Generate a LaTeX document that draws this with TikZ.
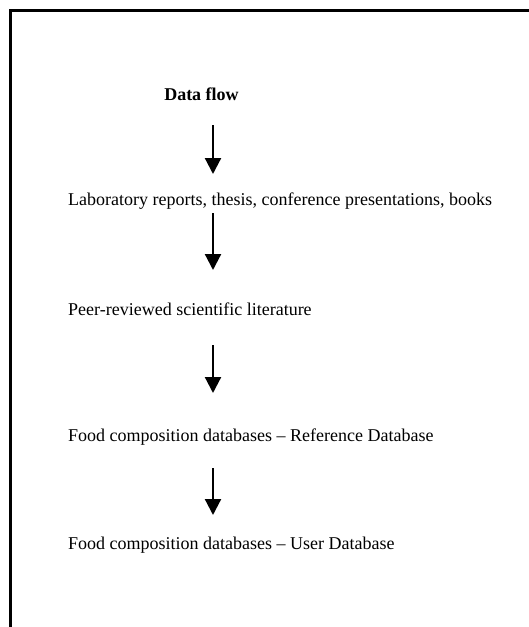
\documentclass[tikz,border=0pt]{standalone}
\usepackage{fontspec}
\setmainfont{Liberation Serif}
\usetikzlibrary{arrows.meta}

\begin{document}
\begin{tikzpicture}[x=1pt,y=-1pt,
  txt/.style={anchor=west,inner sep=0pt,font=\fontsize{18}{21.6}\selectfont},
  flowarrow/.style={line width=2.2pt,-{Triangle[width=16pt,length=16pt]}}]
\useasboundingbox (0,0) rectangle (529,627);
\draw[line width=2.5pt] (10.5,627) -- (10.5,10.5) -- (529,10.5);
\node[inner sep=0pt,font=\fontsize{18}{21.6}\selectfont\bfseries] (title) at (201.5,94) {Data flow};
\node[txt] (lab) at (68,201) {Laboratory reports, thesis, conference presentations, books};
\node[txt] (peer) at (68,309) {Peer-reviewed scientific literature};
\node[txt] (ref) at (68,437) {Food composition databases – Reference Database};
\node[txt] (user) at (68,545) {Food composition databases – User Database};
\coordinate (a1) at (213,125); \coordinate (b1) at (213,174);
\coordinate (a2) at (213,213); \coordinate (b2) at (213,270);
\coordinate (a3) at (213,345); \coordinate (b3) at (213,393);
\coordinate (a4) at (213,468); \coordinate (b4) at (213,515);
\foreach \i in {1,...,4}
  \draw[flowarrow] (a\i) -- (b\i);
\end{tikzpicture}
\end{document}
